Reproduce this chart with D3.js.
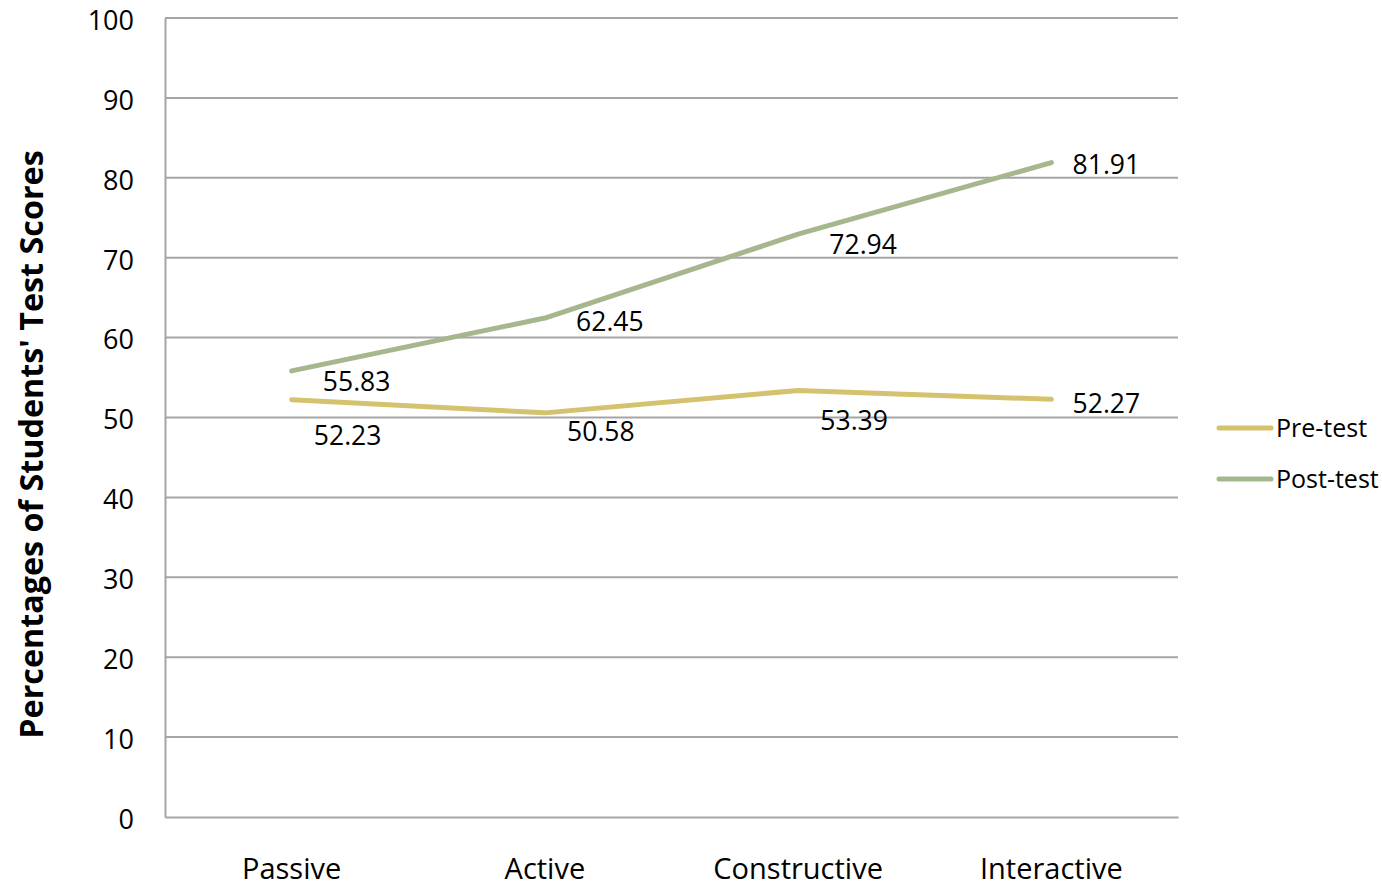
<!DOCTYPE html>
<html>
<head>
<meta charset="utf-8">
<script src="https://cdn.jsdelivr.net/npm/d3@7"></script>
<style>
  html, body { margin: 0; padding: 0; background: #fff; }
  svg { display: block; font-family: "Open Sans", "Noto Sans", sans-serif; }
</style>
</head>
<body>
<svg id="chart" width="1382" height="887"></svg>
<script>
// Test score percentages by engagement mode
const categories = ["Passive", "Active", "Constructive", "Interactive"];
const preTest = [52.23, 50.58, 53.39, 52.27];
const postTest = [55.83, 62.45, 72.94, 81.91];
const seriesNames = ["Pre-test", "Post-test"];
const yTicks = [0, 10, 20, 30, 40, 50, 60, 70, 80, 90, 100];

// Label offsets (px) from each point, per series
const preLabelOffsets = [[56, 36], [56, 19], [56, 30], [55, 4]];
const postLabelOffsets = [[65, 11], [65, 3], [65, 10], [55, 2]];

const colors = { "Pre-test": "#d5c26f", "Post-test": "#a5b78d" };

const svg = d3.select("#chart");
const plotLeft = 165, plotRight = 1178, plotTop = 18, plotBottom = 817;

const x = d3.scaleBand().domain(categories).range([plotLeft, plotRight]);
const y = d3.scaleLinear().domain([0, 100]).range([plotBottom, plotTop]);

// Horizontal gridlines
svg.append("g").selectAll("line").data(yTicks.filter(d => d > 0)).join("line")
  .attr("x1", plotLeft).attr("x2", plotRight)
  .attr("y1", d => y(d)).attr("y2", d => y(d))
  .attr("stroke", "#a5a5a5").attr("stroke-width", 2);

// Y axis
const yAxis = svg.append("g").attr("transform", `translate(${plotLeft},0)`)
  .call(d3.axisLeft(y).tickValues(yTicks).tickSize(0).tickPadding(31));
yAxis.select(".domain").attr("stroke", "#a5a5a5").attr("stroke-width", 2);
yAxis.selectAll("text").attr("font-size", 27).attr("fill", "#000")
  .attr("font-family", "'Open Sans', sans-serif").attr("dy", "0.42em");

// X axis
const xAxis = svg.append("g").attr("transform", `translate(0,${y(0)})`)
  .call(d3.axisBottom(x).tickSize(0).tickPadding(41));
xAxis.select(".domain").attr("stroke", "#a5a5a5").attr("stroke-width", 2);
xAxis.selectAll("text").attr("font-size", 29).attr("fill", "#000")
  .attr("font-family", "'Open Sans', sans-serif");

// Y axis title
svg.append("text")
  .attr("transform", `translate(43,${(y(0) + y(100)) / 2 + 27}) rotate(-90)`)
  .attr("text-anchor", "middle")
  .attr("font-size", 32.3).attr("font-weight", "bold")
  .text("Percentages of Students' Test Scores");

// Lines
const line = d3.line()
  .x((d, i) => x(categories[i]) + x.bandwidth() / 2)
  .y(d => y(d));

const series = [
  { name: "Pre-test", values: preTest, offsets: preLabelOffsets },
  { name: "Post-test", values: postTest, offsets: postLabelOffsets }
];

series.forEach(s => {
  svg.append("path").datum(s.values)
    .attr("d", line)
    .attr("fill", "none")
    .attr("stroke", colors[s.name])
    .attr("stroke-width", 5)
    .attr("stroke-linecap", "round")
    .attr("stroke-linejoin", "round");
});

// Data labels
series.forEach(s => {
  svg.append("g").selectAll("text").data(s.values).join("text")
    .attr("x", (d, i) => x(categories[i]) + x.bandwidth() / 2 + s.offsets[i][0])
    .attr("y", (d, i) => y(d) + s.offsets[i][1])
    .attr("dy", "0.36em")
    .attr("text-anchor", "middle")
    .attr("font-size", 26.5)
    .text(d => d.toFixed(2));
});

// Legend
const legend = svg.append("g");
series.forEach((s, i) => {
  const ly = 428 + i * 51;
  legend.append("line")
    .attr("x1", 1219).attr("x2", 1271).attr("y1", ly).attr("y2", ly)
    .attr("stroke", colors[s.name]).attr("stroke-width", 5)
    .attr("stroke-linecap", "round");
  legend.append("text")
    .attr("x", 1276).attr("y", ly).attr("dy", "0.36em")
    .attr("font-size", 25)
    .text(s.name);
});
</script>
</body>
</html>
